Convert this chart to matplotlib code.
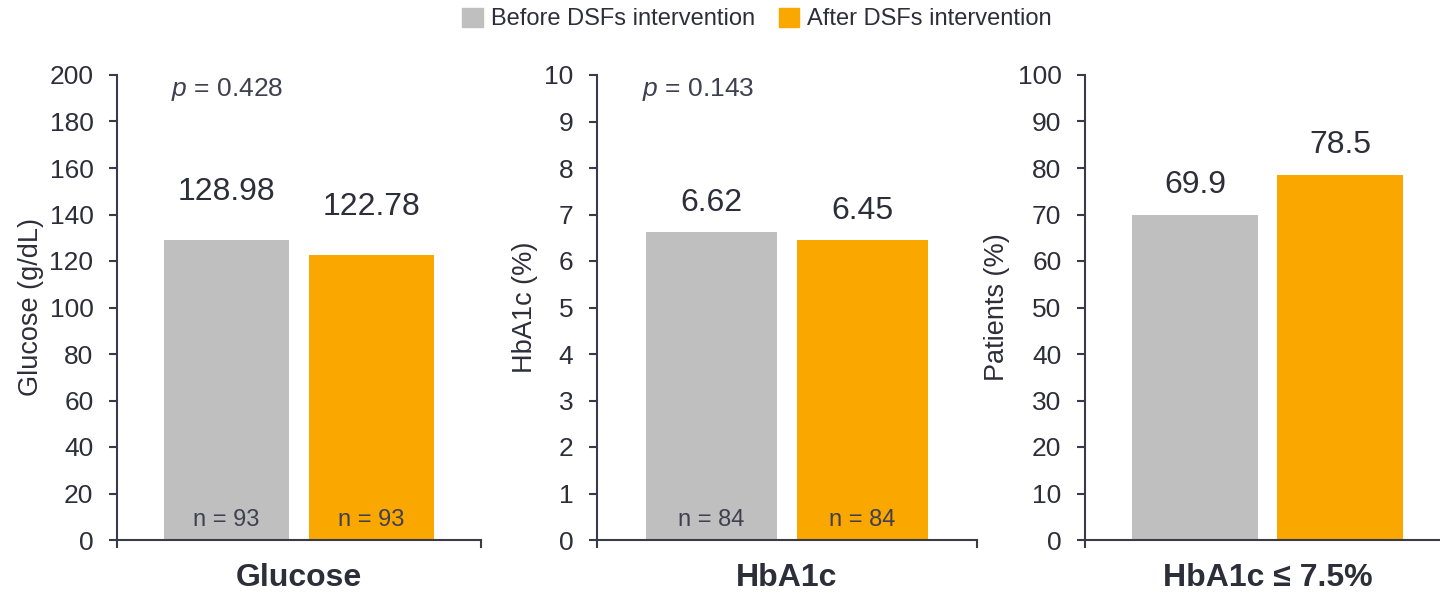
import matplotlib.pyplot as plt
from matplotlib.patches import Patch

plt.rcParams['font.family'] = ['Liberation Sans', 'DejaVu Sans']
plt.rcParams['mathtext.fontset'] = 'custom'
plt.rcParams['mathtext.it'] = 'Liberation Sans:italic'
plt.rcParams['mathtext.rm'] = 'Liberation Sans'

# data
groups = ['Before DSFs intervention', 'After DSFs intervention']
panel_titles = ['Glucose', 'HbA1c', 'HbA1c ≤ 7.5%']
ylabels = ['Glucose (g/dL)', 'HbA1c (%)', 'Patients (%)']
glucose = [128.98, 122.78]
hba1c = [6.62, 6.45]
hba1c_target = [69.9, 78.5]
n_glucose = [93, 93]
n_hba1c = [84, 84]
p_values = ['0.428', '0.143', None]
ymax = [200, 10, 100]
ystep = [20, 1, 10]

GRAY = '#BFBFBF'
ORANGE = '#FAA700'
TXT = '#2E2E3A'
AXC = '#3A3A48'

W, H = 1440, 593
fig = plt.figure(figsize=(W / 100, H / 100), dpi=100)

# axes boxes in pixels: left, width
boxes = [(117, 364), (597, 380), (1085, 365)]
bottom_px, top_px = 540, 75

values = [glucose, hba1c, hba1c_target]
ns = [n_glucose, n_hba1c, None]
label_off = [48, 29, 30]  # pixels above bar top
ylab_x = [-73, -59, -75]  # pixels left of the spine

for i, (left, width) in enumerate(boxes):
    ax = fig.add_axes([left / W, 1 - bottom_px / H, width / W,
                       (bottom_px - top_px) / H])
    vals = values[i]
    bars = ax.bar([0, 1], vals, width=0.868, color=[GRAY, ORANGE], zorder=2)
    ax.set_xlim(-0.758, 1.758)
    ax.set_ylim(0, ymax[i])
    ax.set_yticks([k * ystep[i] for k in range(11)])
    ax.set_xticks([-0.758, 1.758])
    ax.set_xticklabels([])
    for s in ['top', 'right']:
        ax.spines[s].set_visible(False)
    for s in ['left', 'bottom']:
        ax.spines[s].set_color(AXC)
        ax.spines[s].set_linewidth(1.5)
    ax.tick_params(axis='both', direction='out', length=6, width=1.5,
                   color=AXC, labelsize=19, labelcolor=TXT, pad=11)
    ax.set_ylabel(ylabels[i], fontsize=19.5, color=TXT)
    ax.yaxis.set_label_coords(ylab_x[i] / width, 0.5)

    for b, v in zip(bars, vals):
        ax.annotate(f'{v:g}' if i == 2 else f'{v:.2f}',
                    (b.get_x() + b.get_width() / 2, v),
                    xytext=(0, label_off[i]), textcoords='offset pixels',
                    ha='center', va='center', fontsize=23, color=TXT)

    if ns[i] is not None:
        for x, n in zip([0, 1], ns[i]):
            ax.text(x, 0.043, f'n = {n}', transform=ax.get_xaxis_transform(),
                    ha='center', va='center', fontsize=17, color='#404050')

    if p_values[i] is not None:
        ax.text(0 if i == 0 else -0.09, 0.968, f'$p$ = {p_values[i]}',
                transform=ax.get_xaxis_transform(), ha='center', va='center',
                fontsize=19, color='#404050')

    ax.text(0.5, -0.082, panel_titles[i], transform=ax.get_xaxis_transform(),
            ha='center', va='center', fontsize=23, fontweight='bold', color=TXT)

handles = [Patch(color=GRAY, label=groups[0]), Patch(color=ORANGE, label=groups[1])]
fig.legend(handles=handles, loc='center', bbox_to_anchor=(757 / W, 1 - 19 / H),
           ncol=2, frameon=False, fontsize=17, labelcolor=TXT,
           handlelength=0.85, handleheight=0.85, handletextpad=0.35,
           columnspacing=1.0, borderpad=0)

fig.savefig('out.png', dpi=100)
